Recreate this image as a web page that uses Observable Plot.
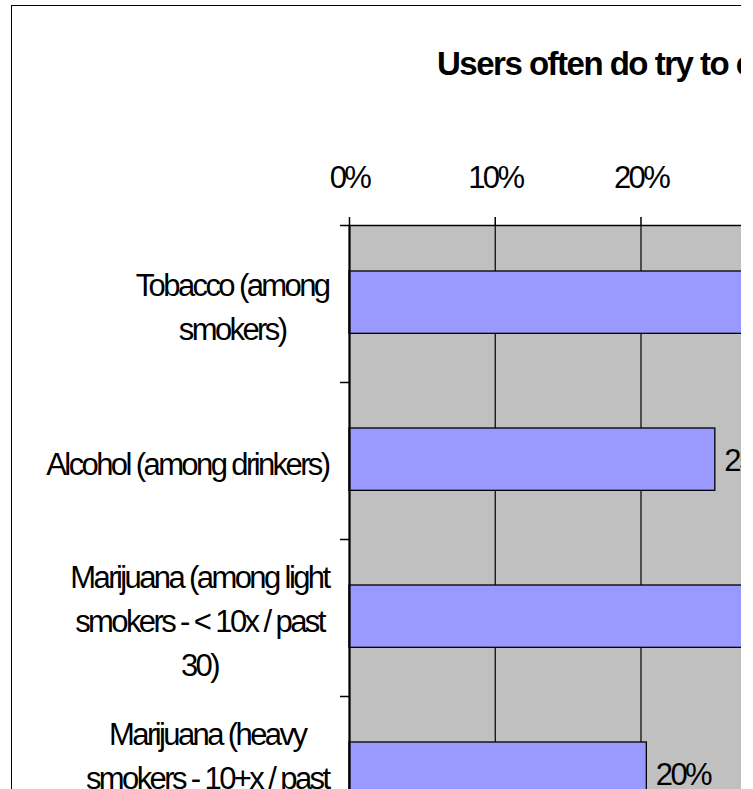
<!DOCTYPE html>
<html>
<head>
<meta charset="utf-8">
<script src="https://cdn.jsdelivr.net/npm/d3@7"></script>
<script src="https://cdn.jsdelivr.net/npm/@observablehq/plot@0.6"></script>
<style>
  html, body { margin: 0; padding: 0; background: white; }
  #clip { position: relative; width: 741px; height: 789px; overflow: hidden; background: white; }
  #border { position: absolute; left: 11px; top: 5px; width: 2000px; height: 2000px; border: 1.5px solid black; box-sizing: border-box; }
  #title { position: absolute; left: 437px; top: 47px; white-space: nowrap; font-family: "Liberation Sans", Arial, sans-serif; font-weight: bold; font-size: 33px; line-height: 33px; letter-spacing: -1.5px; color: black; }
  #chart { position: absolute; left: 0; top: 0; }
</style>
</head>
<body>
<div id="clip">
  <div id="border"></div>
  <div id="title">Users often do try to cut down</div>
  <div id="chart"></div>
</div>
<script>
const categories = [
  "Tobacco (among smokers)",
  "Alcohol (among drinkers)",
  "Marijuana (among light smokers - < 10x / past 30)",
  "Marijuana (heavy smokers - 10+x / past 30)"
];
const labelLines = [
  ["Tobacco (among", "smokers)"],
  ["Alcohol (among drinkers)"],
  ["Marijuana (among light", "smokers - < 10x / past", "30)"],
  ["Marijuana (heavy", "smokers - 10+x / past", "30)"]
];
const values = [0.38, 0.251, 0.31, 0.204];
const xTicks = [0, 0.1, 0.2, 0.3, 0.4];

const data = categories.map((c, i) => ({category: c, label: labelLines[i].join("\n"), value: values[i], i}));
const fmt = d3.format(".0%");

function fontAvailable(name) {
  const ctx = document.createElement("canvas").getContext("2d");
  const s = "Tobacco (among smokers) mmmwwwiii 10%";
  ctx.font = "31px monospace";
  const a = ctx.measureText(s).width;
  ctx.font = `31px "${name}", monospace`;
  const b = ctx.measureText(s).width;
  return Math.abs(a - b) > 0.5;
}
const narrow = fontAvailable("Liberation Sans Narrow");
const family = narrow ? '"Liberation Sans Narrow", "Arial Narrow", sans-serif' : '"Liberation Sans", Arial, sans-serif';
const spacing = narrow ? "0px" : "-2.6px";

const chart = Plot.plot({
  width: 960,
  height: 883,
  marginLeft: 349,
  marginRight: 28,
  marginTop: 225,
  marginBottom: 30,
  x: {domain: [0, 0.4]},
  y: {domain: [4, 0]},
  style: {fontFamily: family, fontSize: "31px", letterSpacing: spacing, color: "black", background: "transparent", maxWidth: "none", overflow: "visible"},
  marks: [
    Plot.frame({fill: "#C0C0C0"}),
    Plot.ruleX(xTicks.slice(1), {stroke: "black", strokeWidth: 1.2}),
    Plot.rectX(data, {x1: 0, x2: "value", y1: d => d.i + 0.293, y2: d => d.i + 0.69, fill: "#9999FF", stroke: "black", strokeWidth: 1.3}),
    Plot.frame({stroke: "black", strokeWidth: 1.5}),
    Plot.ruleX([0], {stroke: "black", strokeWidth: 2}),
    Plot.axisX(xTicks, {anchor: "top", tickSize: 9, tickPadding: 29, tickFormat: fmt, label: null, stroke: "black", strokeWidth: 1.5}),
    Plot.axisY(d3.range(0, 5), {anchor: "left", tickSize: 9, tickFormat: () => "", label: null, stroke: "black", strokeWidth: 1.5}),
    Plot.text(data, {x: 0, y: d => d.i + 0.5, text: "label", textAnchor: "end", lineAnchor: "middle", lineHeight: 1.42, dx: -21, fill: "black"}),
    Plot.text(data, {x: "value", y: d => d.i + 0.5, text: d => fmt(d.value), textAnchor: "start", lineAnchor: "middle", dx: 9, fill: "black"})
  ]
});
document.getElementById("chart").appendChild(chart);

// center each line of a multi-line category label within its right-aligned block
chart.querySelectorAll("text").forEach(t => {
  const spans = t.querySelectorAll("tspan");
  if (spans.length < 2) return;
  const ws = Array.from(spans, s => s.getComputedTextLength());
  const W = Math.max(...ws);
  spans.forEach((s, k) => s.setAttribute("x", -(W - ws[k]) / 2));
});
</script>
</body>
</html>
